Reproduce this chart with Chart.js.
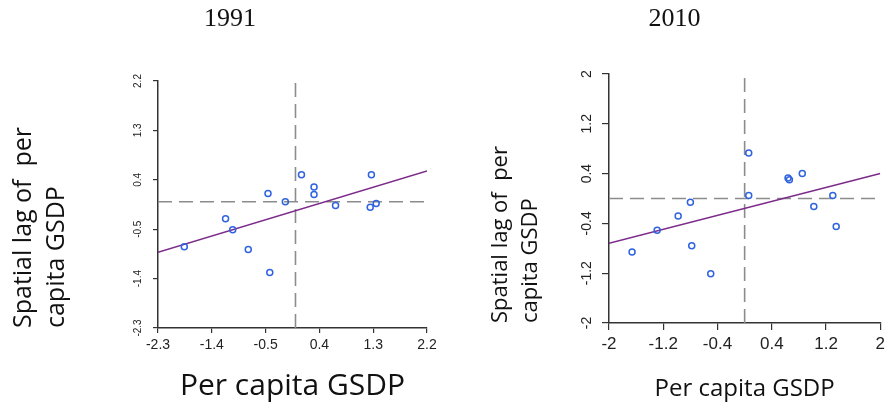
<!DOCTYPE html>
<html>
<head>
<meta charset="utf-8">
<script src="https://cdn.jsdelivr.net/npm/chart.js@4.4.1/dist/chart.umd.min.js"></script>
<style>
  body { margin: 0; background: #fff; }
  .panel { position: absolute; top: 0; }
</style>
</head>
<body>
<canvas id="chart1991" class="panel" style="left:0" width="460" height="408"></canvas>
<canvas id="chart2010" class="panel" style="left:460px" width="429" height="408"></canvas>
<script>
// 1991 panel
const ticks1991 = [-2.3, -1.4, -0.5, 0.4, 1.3, 2.2];
const gsdp1991 = [-1.86, -1.17, -1.05, -0.79, -0.46, -0.43, -0.17, 0.10, 0.31, 0.31, 0.67, 1.27, 1.25, 1.35];
const lag1991 = [-0.82, -0.31, -0.51, -0.87, 0.15, -1.29, 0.00, 0.49, 0.27, 0.13, -0.07, 0.49, -0.10, -0.03];
const fitX1991 = [-2.3, 2.2];
const fitY1991 = [-0.92, 0.56];

// 2010 panel
const ticks2010 = [-2, -1.2, -0.4, 0.4, 1.2, 2];
const gsdp2010 = [-1.66, -1.29, -0.98, -0.80, -0.78, -0.50, 0.06, 0.06, 0.64, 0.66, 0.85, 1.02, 1.30, 1.35];
const lag2010 = [-0.86, -0.51, -0.28, -0.06, -0.76, -1.21, 0.73, 0.05, 0.33, 0.30, 0.40, -0.13, 0.05, -0.45];
const fitX2010 = [-2, 2];
const fitY2010 = [-0.72, 0.40];

const yTitle = ['Spatial lag of  per', 'capita GSDP'];
const xTitle = 'Per capita GSDP';

function moranChart(id, s) {
    const lo = s.ticks[0], hi = s.ticks[s.ticks.length - 1];
    const dashed = { showLine: true, borderColor: '#8c8c8c', borderWidth: 1.6, borderDash: [14, 7], pointRadius: 0 };
    const fixTicks = scale => { scale.ticks = s.ticks.map(v => ({ value: v })); };

    new Chart(document.getElementById(id), {
        type: 'scatter',
        data: {
            datasets: [
                {
                    data: s.x.map((x, i) => ({ x: x, y: s.y[i] })),
                    pointStyle: 'circle',
                    pointRadius: 3,
                    pointBorderWidth: 1.5,
                    pointBorderColor: '#2f63e0',
                    pointBackgroundColor: 'rgba(255,255,255,0)'
                },
                {
                    data: s.fitX.map((x, i) => ({ x: x, y: s.fitY[i] })),
                    showLine: true,
                    borderColor: '#7d2b8b',
                    borderWidth: 1.5,
                    pointRadius: 0
                },
                Object.assign({ data: [{ x: 0, y: lo }, { x: 0, y: hi }] }, dashed),
                Object.assign({ data: [{ x: lo, y: 0 }, { x: hi, y: 0 }] }, dashed)
            ]
        },
        options: {
            responsive: false,
            animation: false,
            events: [],
            layout: { padding: 0 },
            plugins: {
                legend: { display: false },
                tooltip: { enabled: false },
                title: {
                    display: true,
                    text: s.title,
                    color: '#111',
                    font: { family: 'Liberation Serif', size: 26, weight: 'normal', lineHeight: 1.2 },
                    padding: { top: 4, bottom: s.titleGap }
                }
            },
            scales: {
                x: {
                    type: 'linear',
                    position: 'bottom',
                    min: lo,
                    max: hi,
                    afterBuildTicks: fixTicks,
                    afterFit: scale => { scale.height = s.xHeight; },
                    grid: { drawOnChartArea: false, drawTicks: true, tickLength: s.tickLen, color: '#333', lineWidth: 1.2 },
                    border: { display: true, color: '#333', width: 1.5 },
                    ticks: {
                        autoSkip: false, maxRotation: 0, padding: s.xTickPad, color: '#222',
                        font: { family: 'Liberation Sans', size: s.xTickSize },
                        callback: v => String(v)
                    },
                    title: {
                        display: true, text: xTitle, color: '#111',
                        font: { family: 'Open Sans', size: s.xTitleSize, lineHeight: 1.2 },
                        padding: { top: 0, bottom: 4 }
                    }
                },
                y: {
                    type: 'linear',
                    position: 'left',
                    min: lo,
                    max: hi,
                    afterBuildTicks: fixTicks,
                    afterFit: scale => { scale.width = s.yWidth; },
                    grid: { drawOnChartArea: false, drawTicks: true, tickLength: s.tickLen, color: '#333', lineWidth: 1.2 },
                    border: { display: true, color: '#333', width: 1.5 },
                    ticks: {
                        autoSkip: false, minRotation: 90, maxRotation: 90, crossAlign: 'center',
                        padding: s.yTickPad, color: '#222',
                        font: { family: 'Liberation Sans', size: s.yTickSize },
                        callback: v => String(v)
                    },
                    title: {
                        display: true, text: yTitle, align: 'start', color: '#111',
                        font: { family: 'Open Sans', size: s.yTitleSize, lineHeight: s.yTitleLine },
                        padding: { top: s.yTitlePad, bottom: 0 }
                    }
                },
                // empty strip on the right so the title sits where the original has it
                pad: {
                    type: 'linear',
                    position: 'right',
                    display: true,
                    afterFit: scale => { scale.width = s.rightGap; },
                    grid: { display: false },
                    border: { display: false },
                    ticks: { display: false }
                }
            }
        }
    });
}

moranChart('chart1991', {
    title: '1991', ticks: ticks1991, x: gsdp1991, y: lag1991, fitX: fitX1991, fitY: fitY1991,
    titleGap: 45.8, xHeight: 80, yWidth: 158, rightGap: 33, tickLen: 5,
    xTickSize: 14, xTickPad: 4, yTickSize: 10, yTickPad: 6,
    xTitleSize: 30, yTitleSize: 25, yTitleLine: 1.3, yTitlePad: 8
});

moranChart('chart2010', {
    title: '2010', ticks: ticks2010, x: gsdp2010, y: lag2010, fitX: fitX2010, fitY: fitY2010,
    titleGap: 38.8, xHeight: 85, yWidth: 149, rightGap: 8, tickLen: 7,
    xTickSize: 17, xTickPad: 4, yTickSize: 14, yTickPad: 3,
    xTitleSize: 24, yTitleSize: 22, yTitleLine: 1.36, yTitlePad: 26
});
</script>
</body>
</html>
